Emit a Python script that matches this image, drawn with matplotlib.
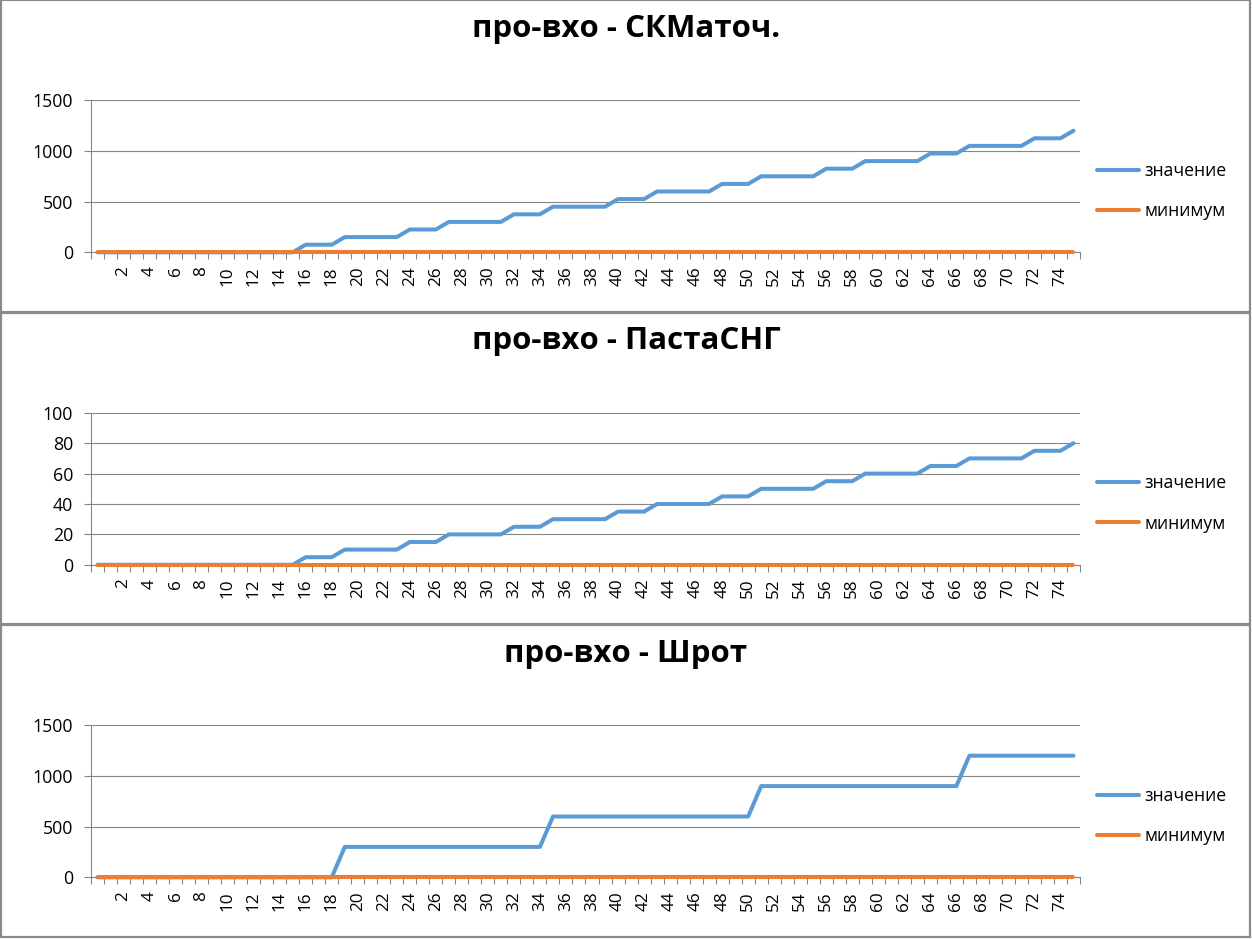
import matplotlib
matplotlib.use("Agg")
import matplotlib.pyplot as plt
from matplotlib.patches import Rectangle
from matplotlib.ticker import FixedLocator

# ---------------- data ----------------
categories = [""] + [str(i) for i in range(1, 76)]

titles = ["про-вхо - СКМаточ.", "про-вхо - ПастаСНГ", "про-вхо - Шрот"]
series_names = ["значение", "минимум"]

value_skmatoch = [0, 0, 0, 0, 0, 0, 0, 0, 0, 0, 0, 0, 0, 0, 0, 0,
                  75, 75, 75,
                  150, 150, 150, 150, 150,
                  225, 225, 225,
                  300, 300, 300, 300, 300,
                  375, 375, 375,
                  450, 450, 450, 450, 450,
                  525, 525, 525,
                  600, 600, 600, 600, 600,
                  675, 675, 675,
                  750, 750, 750, 750, 750,
                  825, 825, 825,
                  900, 900, 900, 900, 900,
                  975, 975, 975,
                  1050, 1050, 1050, 1050, 1050,
                  1125, 1125, 1125,
                  1200]

value_pasta = [0, 0, 0, 0, 0, 0, 0, 0, 0, 0, 0, 0, 0, 0, 0, 0,
               5, 5, 5,
               10, 10, 10, 10, 10,
               15, 15, 15,
               20, 20, 20, 20, 20,
               25, 25, 25,
               30, 30, 30, 30, 30,
               35, 35, 35,
               40, 40, 40, 40, 40,
               45, 45, 45,
               50, 50, 50, 50, 50,
               55, 55, 55,
               60, 60, 60, 60, 60,
               65, 65, 65,
               70, 70, 70, 70, 70,
               75, 75, 75,
               80]

value_shrot = [0, 0, 0, 0, 0, 0, 0, 0, 0, 0, 0, 0, 0, 0, 0, 0, 0, 0, 0,
               300, 300, 300, 300, 300, 300, 300, 300, 300, 300, 300, 300, 300, 300, 300, 300,
               600, 600, 600, 600, 600, 600, 600, 600, 600, 600, 600, 600, 600, 600, 600, 600,
               900, 900, 900, 900, 900, 900, 900, 900, 900, 900, 900, 900, 900, 900, 900, 900,
               1200, 1200, 1200, 1200, 1200, 1200, 1200, 1200, 1200]

minimum_values = [0] * 76

y_maxes = [1500, 100, 1500]
y_steps = [500, 20, 500]

# ---------------- style ----------------
W, H = 1252, 939
BLUE = "#5B9BD5"
ORANGE = "#ED7D31"
GRID = "#868686"
BORDER = "#8a8a8a"
FONT = ["Open Sans", "DejaVu Sans"]

plt.rcParams["font.family"] = FONT

fig = plt.figure(figsize=(W / 100, H / 100), dpi=100)
fig.patch.set_facecolor("white")

panel_tops = [0, 312.5, 625]
all_values = [value_skmatoch, value_pasta, value_shrot]
x = list(range(len(categories)))

for k in range(3):
    pt = panel_tops[k]
    # panel frame
    ph = 312.5 if k < 2 else 313
    fig.add_artist(Rectangle((1 / W, 1 - (pt + ph - 1) / H), 1249 / W, (ph - 1) / H,
                             transform=fig.transFigure, fill=False,
                             edgecolor=BORDER, linewidth=1.6, zorder=0))
    top = pt + 100.3
    bottom = pt + 252.3
    ax = fig.add_axes([91 / W, 1 - bottom / H, 989 / W, (bottom - top) / H])
    ax.set_facecolor("none")

    ax.plot(x, all_values[k], color=BLUE, lw=2.9, solid_capstyle="round",
            solid_joinstyle="round", label=series_names[0], clip_on=False, zorder=3)
    ax.plot(x, minimum_values, color=ORANGE, lw=2.9, solid_capstyle="round",
            solid_joinstyle="round", label=series_names[1], clip_on=False, zorder=4)

    ax.set_xlim(-0.5, len(categories) - 0.5)
    ax.set_ylim(0, y_maxes[k])
    ax.set_yticks(list(range(0, y_maxes[k] + 1, y_steps[k])))
    ax.yaxis.grid(True, color=GRID, linewidth=0.8)
    ax.set_axisbelow(True)

    major_pos = x[0::2]
    ax.xaxis.set_major_locator(FixedLocator(major_pos))
    ax.set_xticklabels(categories[0::2], rotation=90, fontsize=12.3, va="top", ha="center")
    ax.xaxis.set_minor_locator(FixedLocator([i - 0.5 for i in range(len(categories) + 1)]))
    ax.tick_params(axis="x", which="major", length=0, pad=10)
    ax.tick_params(axis="x", which="minor", length=5, width=0.8, color=GRID)
    ax.tick_params(axis="y", length=5, width=0.8, color=GRID, pad=8, labelsize=12.8)

    for s in ["top", "right"]:
        ax.spines[s].set_visible(False)
    for s in ["left", "bottom"]:
        ax.spines[s].set_color(GRID)
        ax.spines[s].set_linewidth(0.8)

    fig.text(0.5, 1 - (pt + 37) / H, titles[k], ha="center", va="baseline",
             fontsize=22.5, fontweight="bold", color="black")

    ax.legend(loc="center left", bbox_to_anchor=(1097 / W, 1 - (pt + 191) / H),
              bbox_transform=fig.transFigure, frameon=False, fontsize=12.7,
              handlelength=2.4, handletextpad=0.3, labelspacing=1.25,
              borderpad=0, borderaxespad=0)

fig.savefig("out.png", dpi=100, facecolor="white")
